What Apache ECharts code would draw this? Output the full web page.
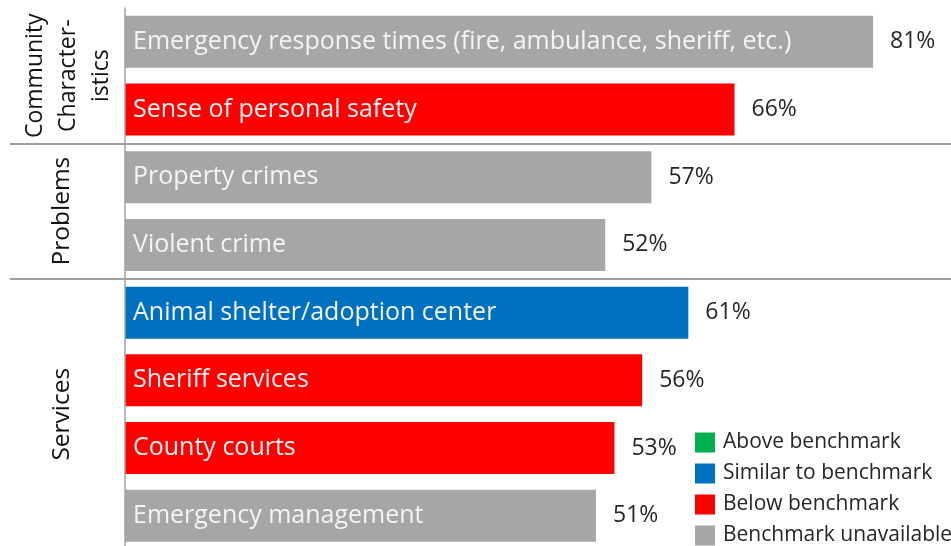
<!DOCTYPE html>
<html><head><meta charset="utf-8">
<script src="https://cdn.jsdelivr.net/npm/echarts@6/dist/echarts.min.js"></script>
<style>html,body{margin:0;padding:0;background:#fff}#c{width:951px;height:546px}</style>
</head><body><div id="c"></div>
<script>
var categories = ['Emergency response times (fire, ambulance, sheriff, etc.)','Sense of personal safety','Property crimes','Violent crime','Animal shelter/adoption center','Sheriff services','County courts','Emergency management'];
var values = [81, 66, 57, 52, 61, 56, 53, 51];
var benchStatus = ['Benchmark unavailable','Below benchmark','Benchmark unavailable','Benchmark unavailable','Similar to benchmark','Below benchmark','Below benchmark','Benchmark unavailable'];
var legendNames = ['Above benchmark','Similar to benchmark','Below benchmark','Benchmark unavailable'];
var legendColors = ['#00b050','#0070c0','#ff0000','#a6a6a6'];
var groupNames = ['Community\nCharacter-\nistics','Problems','Services'];
var groupSizes = [2, 2, 4];

var FONT = 'Open Sans';
var boundaries = [];
(function(){var s=0;for(var i=0;i<groupSizes.length-1;i++){s+=groupSizes[i];boundaries.push(s);}})();

var series = legendNames.map(function(n, k){
  return {
    name: n, type: 'bar', stack: 'all', barWidth: 52,
    itemStyle: {color: legendColors[k]},
    data: values.map(function(v,i){return benchStatus[i]===n ? v : '-';}),
    label: {show: true, position: 'right', distance: 17, formatter: '{c}%', color: '#262626', fontSize: 23, fontFamily: FONT}
  };
});

var chart = echarts.init(document.getElementById('c'));
var sepStyle = {color: '#a0a0a0', width: 2};
chart.setOption({
  animation: false,
  textStyle: {fontFamily: FONT},
  grid: {left: 125, top: 8, width: 923.5, height: 541.6, containLabel: false, outerBoundsMode: 'none'},
  xAxis: {type: 'value', min: 0, max: 100, show: false},
  yAxis: {
    type: 'category', inverse: true, data: categories, z: 10,
    axisLine: {show: true, lineStyle: {color: '#a0a0a0', width: 1.5}},
    axisTick: {show: true, length: 115, lineStyle: sepStyle,
      interval: function(idx){return boundaries.indexOf(idx) >= 0;}},
    splitLine: {show: true, lineStyle: sepStyle,
      interval: function(idx){return boundaries.indexOf(idx) >= 0;}},
    axisLabel: {inside: true, margin: 8, color: '#f4f4f4', fontSize: 25, fontFamily: FONT}
  },
  legend: {
    orient: 'vertical', left: 695, top: 432, padding: 0, itemWidth: 20, itemHeight: 20, itemGap: 10,
    icon: 'rect', textStyle: {fontSize: 21, color: '#262626', fontFamily: FONT, padding: [2, 0, 0, 3]},
    data: legendNames
  },
  series: series
});

// group labels centred on their categories
var g = [], s = 0;
groupSizes.forEach(function(sz, k){
  var y0 = chart.convertToPixel({yAxisIndex: 0}, categories[s]);
  var y1 = chart.convertToPixel({yAxisIndex: 0}, categories[s+sz-1]);
  var lines = groupNames[k].split('\n').length;
  g.push({type: 'text', x: lines > 1 ? 68 : 62, y: (y0+y1)/2, rotation: Math.PI/2,
    style: {text: groupNames[k], textAlign: 'center', textVerticalAlign: 'middle',
      font: (lines > 1 ? 23 : 24.5) + 'px "' + FONT + '"', lineHeight: 33, fill: '#111'}});
  s += sz;
});
chart.setOption({graphic: g});
</script></body></html>
